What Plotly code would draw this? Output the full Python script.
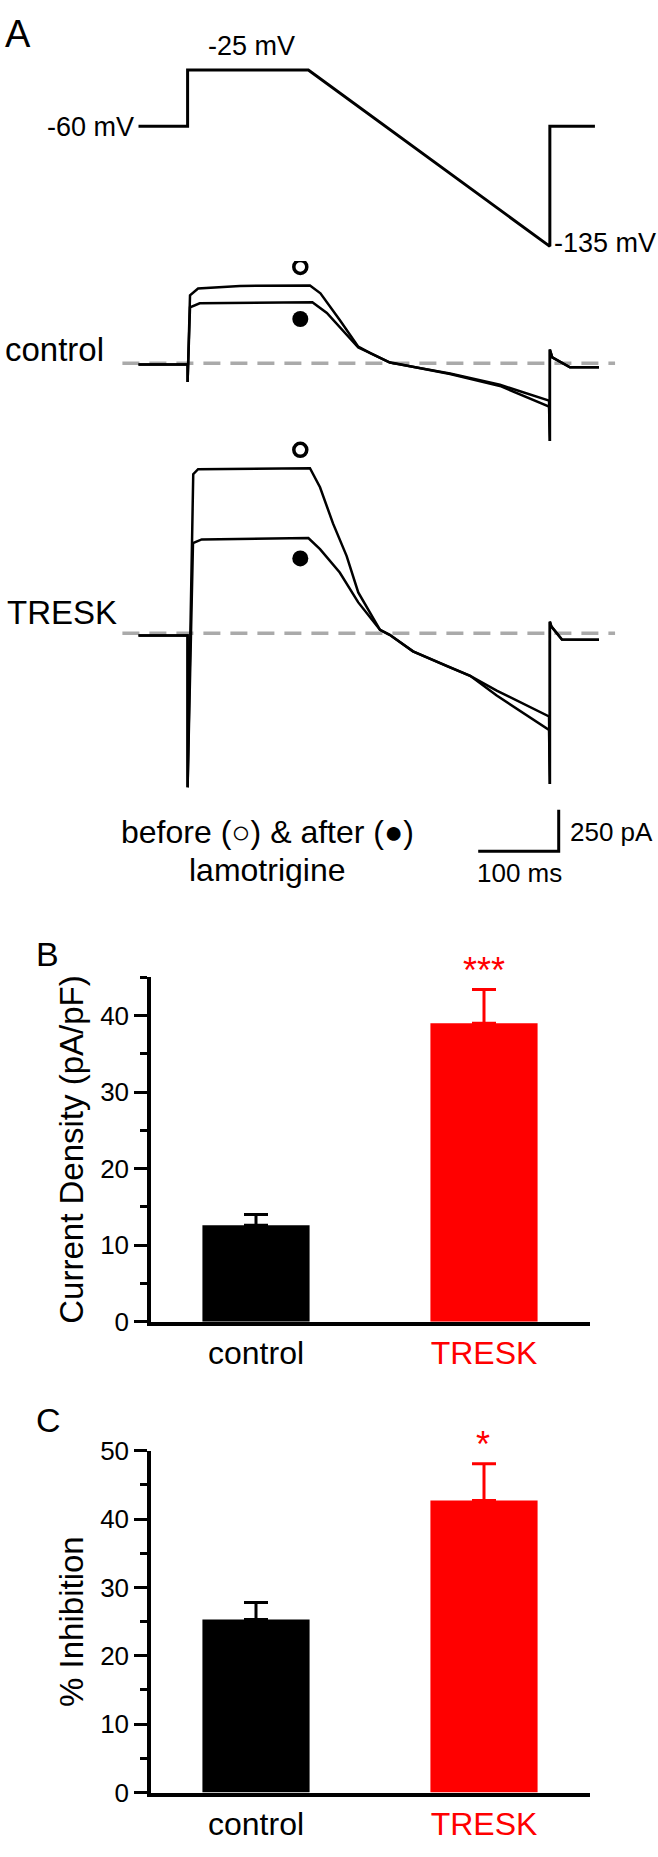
import plotly.graph_objects as go

W, H = 658, 1857
FONT = "Liberation Sans, Arial, Helvetica, sans-serif"

# ---------------- Panel A data (time in ms, voltage in mV, current in pA) ----------------
VOLT_T = [-61, 0, 0, 150, 450, 450, 506]
VOLT_MV = [-60, -60, -25, -25, -135, -60, -60]
VOLT_LABELS = ["-60 mV", "-25 mV", "-135 mV"]

CTRL_BEFORE_T = [-61, 0, 0, 3, 13, 65, 152, 165, 189, 212, 227, 251, 326, 388, 449, 450, 450, 453, 475, 511]
CTRL_BEFORE_PA = [-8, -8, -113, 411, 452, 468, 470, 423, 262, 101, 62, 6, -65, -137, -262, -470, 83, 36, -24, -24]

CTRL_AFTER_T = [-61, 0, 0, 3, 15, 150, 155, 173, 198, 212, 227, 251, 326, 388, 449, 450, 450, 453, 475, 511]
CTRL_AFTER_PA = [-8, -8, -113, 339, 363, 369, 369, 304, 173, 95, 62, 4, -62, -130, -226, -470, 83, 36, -24, -24]

TRESK_BEFORE_T = [-61, 0, 0, 7, 13, 152, 164.5, 180.6, 197.6, 212, 239, 251, 280, 322, 351, 384, 449, 450, 450, 452, 465, 511]
TRESK_BEFORE_PA = [-14, -14, -933, 962, 992, 998, 883, 664, 466, 246, 20, -10, -110, -199, -258, -377, -586, -913, 69, 40, -38, -40]

TRESK_AFTER_T = [-61, 0, 0, 6.7, 17.5, 150, 164.5, 189, 212, 239, 251, 280, 322, 351, 384, 449, 450, 450, 452, 465, 511]
TRESK_AFTER_PA = [-14, -14, -933, 545, 567, 575, 508, 367, 186, 20, -10, -110, -199, -258, -348, -504, -913, 69, 40, -38, -40]

BASELINE_T = [-81, 531]
BASELINE_PA = [0, 0]

MARK_T = [140, 140]
CTRL_MARK_PA = [583, 268]      # open = before, filled = after
TRESK_MARK_PA = [1109, 452]

SCALE_MS = 100
SCALE_PA = 250
SCALE_ANCHOR_T = 461
SCALE_ANCHOR_PA = -1319
SCALE_LABELS = ["100 ms", "250 pA"]

# ---------------- Panels B & C data ----------------
CATEGORIES = ["control", "TRESK"]
BAR_COLORS = ["#000000", "#ff0000"]
DENSITY = [12.6, 39.0]
DENSITY_SEM = [1.4, 4.4]
INHIBITION = [25.3, 42.7]
INHIBITION_SEM = [2.5, 5.4]
B_SIG = "***"
C_SIG = "*"

# ---------------- layout helpers (pixel geometry) ----------------
def ydom(top, bottom):
    return [1 - bottom / H, 1 - top / H]

def xdom(left, right):
    return [left / W, right / W]

def px(x):
    return x / W

def py(y):
    return 1 - y / H

T0_PX, PX_PER_MS = 187.6, 0.805
t_range = [(0 - T0_PX) / PX_PER_MS, (W - T0_PX) / PX_PER_MS]

V_REF_PX, PX_PER_MV = 56.0, 1.6286   # -25 mV at y=56
def v_at(ypx):
    return -25 - (ypx - V_REF_PX) / PX_PER_MV

PX_PER_PA = 0.168
def pa_range(zero_px, top_px, bottom_px):
    return [-(bottom_px - zero_px) / PX_PER_PA, (zero_px - top_px) / PX_PER_PA]

fig = go.Figure()

# voltage protocol
fig.add_trace(go.Scatter(x=VOLT_T, y=VOLT_MV, mode="lines", xaxis="x", yaxis="y",
                         line=dict(color="black", width=3), hoverinfo="skip"))

# current traces
for yax, bt, bp, at, ap, mk in [("y2", CTRL_BEFORE_T, CTRL_BEFORE_PA, CTRL_AFTER_T, CTRL_AFTER_PA, CTRL_MARK_PA),
                                ("y3", TRESK_BEFORE_T, TRESK_BEFORE_PA, TRESK_AFTER_T, TRESK_AFTER_PA, TRESK_MARK_PA)]:
    fig.add_trace(go.Scatter(x=BASELINE_T, y=BASELINE_PA, mode="lines", xaxis="x", yaxis=yax,
                             line=dict(color="#aaaaaa", width=3.5, dash="17px,10px"), hoverinfo="skip"))
    fig.add_trace(go.Scatter(x=bt, y=bp, mode="lines", xaxis="x", yaxis=yax,
                             line=dict(color="black", width=2.5), hoverinfo="skip"))
    fig.add_trace(go.Scatter(x=at, y=ap, mode="lines", xaxis="x", yaxis=yax,
                             line=dict(color="black", width=2.5), hoverinfo="skip"))
    fig.add_trace(go.Scatter(x=[MARK_T[0]], y=[mk[0]], mode="markers", xaxis="x", yaxis=yax,
                             marker=dict(symbol="circle-open", size=13, color="black", line=dict(width=3.5)),
                             hoverinfo="skip"))
    fig.add_trace(go.Scatter(x=[MARK_T[1]], y=[mk[1]], mode="markers", xaxis="x", yaxis=yax,
                             marker=dict(symbol="circle", size=16, color="black"), hoverinfo="skip"))

# scale bar (in TRESK current axis)
fig.add_trace(go.Scatter(
    x=[SCALE_ANCHOR_T - SCALE_MS, SCALE_ANCHOR_T, SCALE_ANCHOR_T],
    y=[SCALE_ANCHOR_PA, SCALE_ANCHOR_PA, SCALE_ANCHOR_PA + SCALE_PA],
    mode="lines", xaxis="x", yaxis="y3", line=dict(color="black", width=3), hoverinfo="skip"))

# bars B and C
for i, cat in enumerate(CATEGORIES):
    fig.add_trace(go.Bar(x=[cat], y=[DENSITY[i]], xaxis="x2", yaxis="y4", width=0.47,
                         marker=dict(color=BAR_COLORS[i], line=dict(width=0)),
                         error_y=dict(type="data", array=[DENSITY_SEM[i]], arrayminus=[0], symmetric=False,
                                      color=BAR_COLORS[i], thickness=3, width=12),
                         hoverinfo="skip"))
    fig.add_trace(go.Bar(x=[cat], y=[INHIBITION[i]], xaxis="x3", yaxis="y5", width=0.47,
                         marker=dict(color=BAR_COLORS[i], line=dict(width=0)),
                         error_y=dict(type="data", array=[INHIBITION_SEM[i]], arrayminus=[0], symmetric=False,
                                      color=BAR_COLORS[i], thickness=3, width=12),
                         hoverinfo="skip"))

hidden = dict(visible=False, showgrid=False, zeroline=False, fixedrange=True)

cat_ticktext = [f"<span style='color:{c}'>{n}</span>" for n, c in zip(CATEGORIES, BAR_COLORS)]
cat_x_left, cat_x_right, cat_c0, cat_px_per_unit = 151, 590, 256, 228
cat_range = [-(cat_c0 - cat_x_left) / cat_px_per_unit,
             (cat_x_right - cat_c0) / cat_px_per_unit]

def cat_xaxis(anchor):
    return dict(domain=xdom(cat_x_left, cat_x_right), anchor=anchor, type="category",
                range=cat_range, categoryorder="array", categoryarray=CATEGORIES,
                tickmode="array", tickvals=CATEGORIES, ticktext=cat_ticktext,
                showline=True, linecolor="black", linewidth=3.5, ticks="", showgrid=False,
                zeroline=False, tickfont=dict(size=32, color="black", family=FONT), fixedrange=True)

def val_yaxis(anchor, dom, rng, title):
    return dict(domain=dom, anchor=anchor, range=rng, showline=True, linecolor="black", linewidth=3.5,
                ticks="outside", ticklen=13, tickwidth=3, tickcolor="black", dtick=10, tick0=0,
                minor=dict(dtick=5, ticks="outside", ticklen=7, tickwidth=3, tickcolor="black"),
                showgrid=False, zeroline=False, tickfont=dict(size=26, color="black", family=FONT),
                title=dict(text=title, font=dict(size=33, color="black", family=FONT), standoff=8),
                fixedrange=True)

annotations = []
def ann(text, x, y, size, xanchor="center", color="black"):
    annotations.append(dict(text=text, x=px(x), y=py(y), xref="paper", yref="paper",
                            xanchor=xanchor, yanchor="middle", showarrow=False,
                            font=dict(size=size, color=color, family=FONT)))

ann("A", 18, 19, 38)
ann(VOLT_LABELS[0], 136, 114, 27, xanchor="right")
ann(VOLT_LABELS[1], 251, 32, 27)
ann(VOLT_LABELS[2], 552, 232, 27, xanchor="left")
ann("control", 3, 340, 33, xanchor="left")
ann("TRESK", 5, 607, 33, xanchor="left")
ann("before (<b>○</b>) &amp; after (●)", 267, 830, 32)
ann("lamotrigine", 267, 869, 32)
ann(SCALE_LABELS[1], 568, 830, 26, xanchor="left")
ann(SCALE_LABELS[0], 519, 872, 26)
ann("B", 47, 954, 34)
ann("C", 48, 1428, 34)
ann(B_SIG, 484, 971, 36, color="#ff0000")
ann(C_SIG, 483, 1453, 36, color="#ff0000")

fig.update_layout(
    width=W, height=H, autosize=False,
    margin=dict(l=0, r=0, t=0, b=0, pad=0),
    paper_bgcolor="white", plot_bgcolor="rgba(0,0,0,0)",
    showlegend=False, barmode="overlay",
    font=dict(family=FONT, color="black"),
    xaxis=dict(domain=[0, 1], range=t_range, anchor="y", **hidden),
    yaxis=dict(domain=ydom(20, 250), range=[v_at(250), v_at(20)], anchor="x", **hidden),
    yaxis2=dict(domain=ydom(250, 450), range=pa_range(354, 250, 450), anchor="x", **hidden),
    yaxis3=dict(domain=ydom(420, 900), range=pa_range(628.3, 420, 900), anchor="x", **hidden),
    xaxis2=cat_xaxis("y4"),
    yaxis4=val_yaxis("x2", ydom(978, 1328.3), [0, 45], "Current Density (pA/pF)"),
    xaxis3=cat_xaxis("y5"),
    yaxis5=val_yaxis("x3", ydom(1459.3, 1806.7), [0, 50], "% Inhibition"),
    annotations=annotations,
)

fig.write_html("out.html", config={"displayModeBar": False},
               post_script="document.body.style.margin='0';")
